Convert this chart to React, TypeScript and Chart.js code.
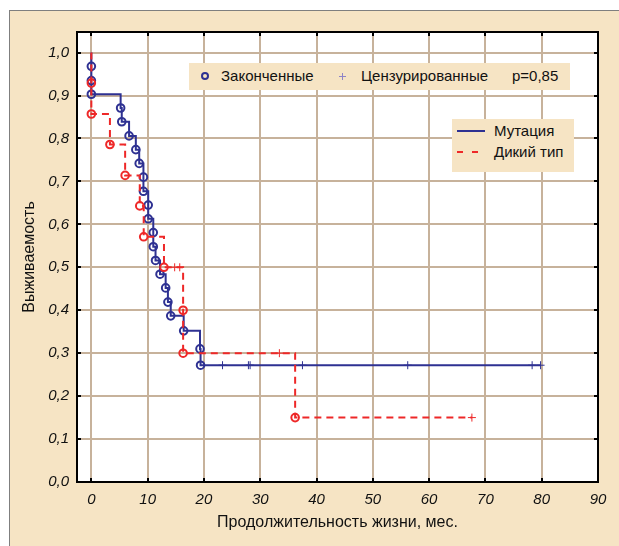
import React, { useEffect, useRef } from 'react';
import { Chart, registerables } from 'chart.js';

Chart.register(...registerables);

// ---------- data ----------
const X_TICKS = [0, 10, 20, 30, 40, 50, 60, 70, 80, 90];
const Y_TICKS = [0, 0.1, 0.2, 0.3, 0.4, 0.5, 0.6, 0.7, 0.8, 0.9, 1.0];

const X_TITLE = 'Продолжительность жизни, мес.';
const Y_TITLE = 'Выживаемость';
const SERIES_NAMES = ['Мутация', 'Дикий тип'];
const MARKER_LABELS = ['Законченные', 'Цензурированные'];
const P_VALUE_LABEL = 'p=0,85';

// Mutation group (blue): event times / survival after each event
const mutEventTimes = [0, 0, 0, 5.2, 5.4, 6.7, 7.9, 8.5, 9.25, 9.25, 10.1, 10.1, 11.0, 11.0, 11.4, 12.2, 13.2, 13.6, 14.1, 16.4, 19.3, 19.4];
const mutEventSurv = [0.968, 0.935, 0.903, 0.871, 0.839, 0.806, 0.774, 0.742, 0.710, 0.677, 0.645, 0.613, 0.581, 0.548, 0.516, 0.484, 0.452, 0.419, 0.387, 0.352, 0.310, 0.272];
const mutCensorTimes = [23.3, 27.9, 28.2, 37.5, 56.2, 78.3, 79.8];
const mutCensorSurv = [0.272, 0.272, 0.272, 0.272, 0.272, 0.272, 0.272];

// Wild type group (red)
const wildEventTimes = [0, 0, 3.3, 6.0, 8.6, 9.3, 12.9, 16.3, 16.3, 36.2];
const wildEventSurv = [0.929, 0.857, 0.786, 0.714, 0.643, 0.571, 0.5, 0.4, 0.3, 0.15];
const wildCensorTimes = [14.8, 15.7, 33.4, 67.6];
const wildCensorSurv = [0.5, 0.5, 0.3, 0.15];

// ---------- styles ----------
const FONT = "'Liberation Sans', Arial, sans-serif";
const BLUE = '#2e3192';
const RED = '#ee2828';
const GRID = '#c7b29b';
const PANEL = '#f6e4c4';
const TEXT = '#111111';

function stepPoints(times: number[], surv: number[], censT: number[]) {
  const pts = [{ x: 0, y: 1 }];
  times.forEach((t, i) => pts.push({ x: t, y: surv[i] }));
  const end = Math.max(times[times.length - 1], ...censT);
  pts.push({ x: end, y: surv[surv.length - 1] });
  return pts;
}
function pairs(xs: number[], ys: number[]) {
  return xs.map((x, i) => ({ x, y: ys[i] }));
}

const framePlugin = {
  id: 'frame',
  beforeDraw(chart: any) {
    const { ctx, chartArea: a } = chart;
    ctx.save();
    ctx.fillStyle = '#ffffff';
    ctx.fillRect(a.left, a.top, a.right - a.left, a.bottom - a.top);
    ctx.restore();
  },
  beforeDatasetsDraw(chart: any) {
    const { ctx, chartArea: a, scales } = chart;
    ctx.save();
    ctx.strokeStyle = '#000';
    ctx.lineWidth = 2;
    ctx.beginPath();
    X_TICKS.forEach((v) => {
      const p = Math.round(scales.x.getPixelForValue(v));
      ctx.moveTo(p, a.bottom);
      ctx.lineTo(p, a.bottom - 4);
      ctx.moveTo(p, a.top);
      ctx.lineTo(p, a.top + 4);
    });
    Y_TICKS.forEach((v) => {
      const p = Math.round(scales.y.getPixelForValue(v));
      ctx.moveTo(a.left, p);
      ctx.lineTo(a.left + 4, p);
      ctx.moveTo(a.right, p);
      ctx.lineTo(a.right - 4, p);
    });
    ctx.stroke();
    ctx.strokeRect(a.left, a.top, a.right - a.left, a.bottom - a.top);
    ctx.restore();
  },
};

function Txt({ x, y, children, size = 15 }: any) {
  return (
    <div
      style={{
        position: 'absolute',
        left: x,
        top: y - 9,
        height: 18,
        lineHeight: '18px',
        fontSize: size,
        fontFamily: FONT,
        color: TEXT,
        whiteSpace: 'nowrap',
      }}
    >
      {children}
    </div>
  );
}

export default function App() {
  const ref = useRef<HTMLCanvasElement | null>(null);

  useEffect(() => {
    if (!ref.current) return;
    const tickFont = { family: FONT, size: 15, style: 'italic' as const };
    const chart = new Chart(ref.current, {
      type: 'scatter',
      data: {
        datasets: [
          {
            label: 'wild-censored',
            data: pairs(wildCensorTimes, wildCensorSurv),
            pointStyle: 'cross',
            pointRadius: 4,
            borderColor: RED,
            borderWidth: 1,
            showLine: false,
          },
          {
            label: 'wild-events',
            data: pairs(wildEventTimes, wildEventSurv),
            pointStyle: 'circle',
            pointRadius: 3.8,
            borderColor: RED,
            backgroundColor: 'rgba(0,0,0,0)',
            borderWidth: 2,
            showLine: false,
          },
          {
            type: 'line',
            label: SERIES_NAMES[1],
            data: stepPoints(wildEventTimes, wildEventSurv, wildCensorTimes),
            stepped: 'before',
            borderColor: RED,
            borderWidth: 2,
            borderDash: [7, 5],
            pointRadius: 0,
            fill: false,
          } as any,
          {
            label: 'mut-censored',
            data: pairs(mutCensorTimes, mutCensorSurv),
            pointStyle: 'cross',
            pointRadius: 4,
            borderColor: BLUE,
            borderWidth: 1,
            showLine: false,
          },
          {
            label: 'mut-events',
            data: pairs(mutEventTimes, mutEventSurv),
            pointStyle: 'circle',
            pointRadius: 3.8,
            borderColor: BLUE,
            backgroundColor: 'rgba(0,0,0,0)',
            borderWidth: 2,
            showLine: false,
          },
          {
            type: 'line',
            label: SERIES_NAMES[0],
            data: stepPoints(mutEventTimes, mutEventSurv, mutCensorTimes),
            stepped: 'before',
            borderColor: BLUE,
            borderWidth: 2,
            pointRadius: 0,
            fill: false,
          } as any,
        ],
      },
      options: {
        animation: false,
        responsive: false,
        devicePixelRatio: 1,
        events: [],
        layout: { padding: { left: 0, top: 32, right: 21, bottom: 0 } },
        plugins: { legend: { display: false }, tooltip: { enabled: false } },
        scales: {
          x: {
            type: 'linear',
            min: -2.55,
            max: 90,
            afterBuildTicks: (s: any) => {
              s.ticks = X_TICKS.map((v) => ({ value: v }));
            },
            afterFit: (s: any) => {
              s.height = 64;
            },
            grid: { color: GRID, lineWidth: 2, drawTicks: false },
            border: { display: false },
            ticks: {
              font: tickFont,
              color: TEXT,
              padding: 9,
              maxRotation: 0,
              autoSkip: false,
              callback: (v: any) => String(v),
            },
            title: {
              display: true,
              text: X_TITLE,
              font: { family: FONT, size: 16 },
              color: TEXT,
              padding: { top: 0, bottom: 14 },
            },
          },
          y: {
            type: 'linear',
            min: 0,
            max: 1.048,
            afterBuildTicks: (s: any) => {
              s.ticks = Y_TICKS.map((v) => ({ value: v }));
            },
            afterFit: (s: any) => {
              s.width = 77;
            },
            grid: { color: GRID, lineWidth: 2, drawTicks: false },
            border: { display: false },
            ticks: {
              font: tickFont,
              color: TEXT,
              padding: 8,
              autoSkip: false,
              callback: (v: any) => Number(v).toFixed(1).replace('.', ','),
            },
            title: {
              display: true,
              text: Y_TITLE,
              font: { family: FONT, size: 16 },
              color: TEXT,
              padding: { top: 20, bottom: 0 },
            },
          },
        },
      },
      plugins: [framePlugin],
    });
    return () => chart.destroy();
  }, []);

  return (
    <div
      style={{
        position: 'fixed',
        left: 0,
        top: 0,
        width: 619,
        height: 546,
        background: '#ffffff',
        overflow: 'hidden',
      }}
    >
      <div
        style={{
          position: 'absolute',
          left: 9,
          top: 10,
          width: 640,
          height: 560,
          background: PANEL,
          borderLeft: '1px solid #7f7f7f',
          borderTop: '1px solid #7f7f7f',
        }}
      />
      <canvas
        ref={ref}
        width={619}
        height={546}
        style={{ position: 'absolute', left: 0, top: 0, width: 619, height: 546 }}
      />
      {/* Legend 1: markers */}
      <div style={{ position: 'absolute', left: 189, top: 63, width: 381, height: 27, background: PANEL }} />
      <div
        style={{
          position: 'absolute',
          left: 201,
          top: 72,
          width: 8,
          height: 8,
          border: `2px solid ${BLUE}`,
          borderRadius: '50%',
          boxSizing: 'border-box',
        }}
      />
      <Txt x={221} y={76}>{MARKER_LABELS[0]}</Txt>
      <div style={{ position: 'absolute', left: 339, top: 76, width: 7, height: 1, background: '#8f84c6' }} />
      <div style={{ position: 'absolute', left: 342, top: 73, width: 1, height: 7, background: '#8f84c6' }} />
      <Txt x={361} y={76}>{MARKER_LABELS[1]}</Txt>
      <Txt x={512} y={76}>{P_VALUE_LABEL}</Txt>
      {/* Legend 2: series */}
      <div style={{ position: 'absolute', left: 452, top: 119, width: 122, height: 53, background: PANEL }} />
      <div style={{ position: 'absolute', left: 457, top: 130, width: 28, height: 2, background: BLUE }} />
      <Txt x={494} y={131}>{SERIES_NAMES[0]}</Txt>
      <div style={{ position: 'absolute', left: 457, top: 151, width: 6, height: 2, background: RED }} />
      <div style={{ position: 'absolute', left: 472, top: 151, width: 6, height: 2, background: RED }} />
      <Txt x={494} y={152}>{SERIES_NAMES[1]}</Txt>
    </div>
  );
}
